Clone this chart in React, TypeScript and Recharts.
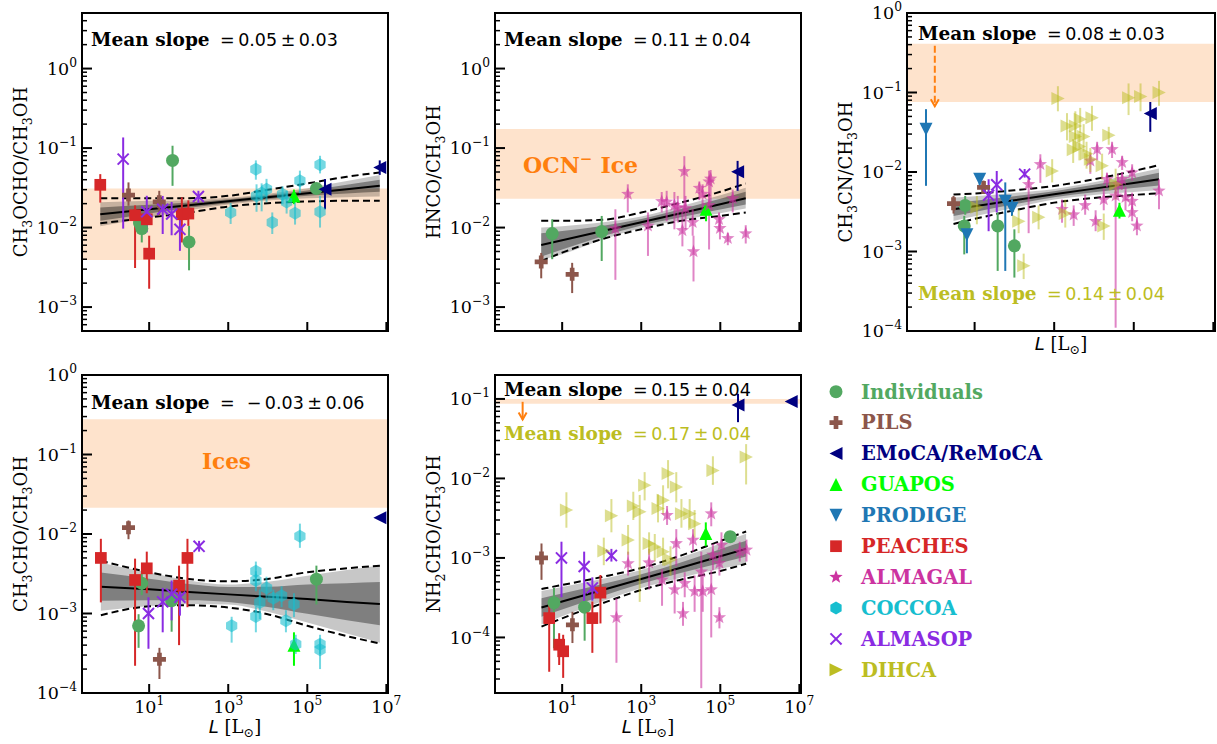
import React from "react";
import {
  Area,
  ComposedChart,
  ErrorBar,
  Line,
  ReferenceArea,
  ReferenceLine,
  Scatter,
  XAxis,
  YAxis
} from "recharts";

// [L, ratio, lower end of error bar, upper end of error bar]
type Pt = [number, number, number, number];
// [L, fit, dark lo, dark hi, light lo, light hi, dashed lo, dashed hi]
type BandRow = [number, number, number, number, number, number, number, number];

type SurveyKey =
  | "individuals" | "pils" | "emoca" | "guapos" | "prodige"
  | "peaches" | "almagal" | "coccoa" | "almasop" | "dihca";

type Shape = "circle" | "plus" | "triLeft" | "triUp" | "triDown" | "square" | "star" | "hexagon" | "x" | "triRight";

const SURVEYS: Record<SurveyKey, { name: string; color: string; shape: Shape; alpha: number }> = {
  individuals: { name: "Individuals", color: "#52a861", shape: "circle", alpha: 1 },
  pils: { name: "PILS", color: "#8c564b", shape: "plus", alpha: 1 },
  emoca: { name: "EMoCA/ReMoCA", color: "#000080", shape: "triLeft", alpha: 1 },
  guapos: { name: "GUAPOS", color: "#00ff00", shape: "triUp", alpha: 1 },
  prodige: { name: "PRODIGE", color: "#1f77b4", shape: "triDown", alpha: 1 },
  peaches: { name: "PEACHES", color: "#d62728", shape: "square", alpha: 1 },
  almagal: { name: "ALMAGAL", color: "#cc33a0", shape: "star", alpha: 0.6 },
  coccoa: { name: "COCCOA", color: "#17becf", shape: "hexagon", alpha: 0.6 },
  almasop: { name: "ALMASOP", color: "#8a2be2", shape: "x", alpha: 1 },
  dihca: { name: "DIHCA", color: "#bcbd22", shape: "triRight", alpha: 0.5 }
};

const LEGEND_ORDER: SurveyKey[] = [
  "individuals", "pils", "emoca", "guapos", "prodige",
  "peaches", "almagal", "coccoa", "almasop", "dihca"
];

const X_DOMAIN: [number, number] = [0.2, 1.1e7];
const X_TICK_EXPS = [1, 3, 5, 7];

// ---------- panel 1: CH3OCHO/CH3OH ----------
const p1Individuals: Pt[] = [
  [5.7, 0.0114, 0.0085, 0.0135], [6.5, 0.0097, 0.0065, 0.0125], [39, 0.07, 0.0335, 0.107],
  [102, 0.0066, 0.0029, 0.0105], [1.7e5, 0.031, 0.028, 0.034]
];
const p1Pils: Pt[] = [[3.0, 0.0256, 0.0188, 0.037], [18, 0.0211, 0.014, 0.029]];
const p1Emoca: Pt[] = [[2.8e5, 0.0304, 0.017, 0.0407], [6.8e6, 0.057, 0.046, 0.07]];
const p1Guapos: Pt[] = [[4.6e4, 0.025, 0.0197, 0.03]];
const p1Peaches: Pt[] = [
  [0.58, 0.0345, 0.0206, 0.047], [4.4, 0.0143, 0.0031, 0.019], [8.7, 0.0127, 0.0095, 0.016],
  [10, 0.0047, 0.0017, 0.0079], [67, 0.0147, 0.0065, 0.024], [98, 0.015, 0.0105, 0.022]
];
const p1Coccoa: Pt[] = [
  [1150, 0.0155, 0.0111, 0.0204], [5000, 0.054, 0.04, 0.07], [5200, 0.025, 0.0158, 0.035],
  [7000, 0.0272, 0.016, 0.036], [9300, 0.0304, 0.0208, 0.041], [13000, 0.0116, 0.0083, 0.0155],
  [23700, 0.0263, 0.0197, 0.033], [30000, 0.021, 0.015, 0.029], [49000, 0.0151, 0.0109, 0.0206],
  [65000, 0.0388, 0.027, 0.052], [2.1e5, 0.0616, 0.048, 0.08], [2.1e5, 0.0158, 0.01, 0.0251]
];
const p1Almasop: Pt[] = [
  [2.2, 0.0726, 0.0097, 0.136], [8.7, 0.0158, 0.0087, 0.0251], [22, 0.017, 0.0083, 0.025],
  [37, 0.0148, 0.008, 0.021], [60, 0.0095, 0.0051, 0.0148], [176, 0.0246, 0.0205, 0.029]
];
const p1Band: BandRow[] = [
  [0.58, 0.01472, 0.01214, 0.01787, 0.0104, 0.02085, 0.01135, 0.02344],
  [10, 0.01702, 0.015, 0.01931, 0.01337, 0.0217, 0.01337, 0.02344],
  [100, 0.01913, 0.0177, 0.02065, 0.01652, 0.02213, 0.01546, 0.02344],
  [1e3, 0.02149, 0.02027, 0.02276, 0.0195, 0.02366, 0.0184, 0.02507],
  [1e4, 0.02412, 0.02276, 0.02557, 0.02189, 0.02655, 0.02027, 0.02985],
  [1e5, 0.02709, 0.02507, 0.02924, 0.02344, 0.03133, 0.02129, 0.03589],
  [1e6, 0.03042, 0.02683, 0.03451, 0.02412, 0.0384, 0.0217, 0.04355],
  [6.8e6, 0.0335, 0.02818, 0.0399, 0.0246, 0.04571, 0.0217, 0.04934]
];

// ---------- panel 2: HNCO/CH3OH ----------
const p2Individuals: Pt[] = [[5.6, 0.0084, 0.004, 0.0127], [100, 0.0089, 0.0038, 0.014]];
const p2Pils: Pt[] = [[2.95, 0.0037, 0.0023, 0.0048], [17.9, 0.00258, 0.0015, 0.0036]];
const p2Emoca: Pt[] = [[2.74e5, 0.0504, 0.029, 0.069]];
const p2Guapos: Pt[] = [[43600, 0.017, 0.012, 0.019]];
const p2Almagal: Pt[] = [
  [222, 0.0097, 0.0022, 0.017], [457, 0.0263, 0.0155, 0.035], [1480, 0.0105, 0.0044, 0.0155],
  [3300, 0.0213, 0.0155, 0.028], [4400, 0.021, 0.012, 0.029], [6900, 0.0191, 0.0095, 0.028],
  [8400, 0.0179, 0.0116, 0.025], [11000, 0.0092, 0.0058, 0.0155], [12300, 0.0508, 0.016, 0.079],
  [13200, 0.0174, 0.0095, 0.025], [20000, 0.0116, 0.0079, 0.017], [21000, 0.005, 0.0021, 0.0079],
  [29500, 0.0313, 0.0221, 0.038], [35600, 0.0263, 0.0155, 0.035], [52000, 0.0377, 0.024, 0.052],
  [57000, 0.041, 0.021, 0.053], [52000, 0.019, 0.0053, 0.0276], [93000, 0.0127, 0.009, 0.0155],
  [98000, 0.0098, 0.0071, 0.014], [155000, 0.0073, 0.006, 0.0086], [206000, 0.0232, 0.0155, 0.03],
  [440000, 0.0084, 0.0063, 0.0107]
];
const p2Band: BandRow[] = [
  [2.95, 0.00605, 0.00431, 0.00849, 0.0039, 0.01, 0.0038, 0.01214],
  [10, 0.00692, 0.00528, 0.00908, 0.00461, 0.0104, 0.00484, 0.01214],
  [100, 0.00899, 0.00771, 0.0105, 0.007, 0.01156, 0.00713, 0.0125],
  [1e3, 0.01167, 0.0106, 0.01285, 0.0099, 0.01377, 0.00953, 0.01546],
  [1e4, 0.01517, 0.01349, 0.01702, 0.01237, 0.01858, 0.01214, 0.02065],
  [1e5, 0.01968, 0.01686, 0.02297, 0.01517, 0.02557, 0.01403, 0.02818],
  [4.4e5, 0.02344, 0.0195, 0.02818, 0.01735, 0.03163, 0.01546, 0.03589]
];

// ---------- panel 3: CH3CN/CH3OH ----------
const p3Individuals: Pt[] = [
  [5.8, 0.0038, 0.0029, 0.005], [5.5, 0.0021, 0.00092, 0.0028],
  [38, 0.0021, 0.00057, 0.0031], [100, 0.00118, 0.00047, 0.0019]
];
const p3Pils: Pt[] = [[2.95, 0.004, 0.003, 0.005], [16.8, 0.0064, 0.0053, 0.0078]];
const p3Emoca: Pt[] = [[2.6e5, 0.0544, 0.032, 0.076]];
const p3Guapos: Pt[] = [[43700, 0.0033, 0.0026, 0.0041]];
const p3Prodige: Pt[] = [
  [0.6, 0.0345, 0.0067, 0.0617], [13.4, 0.0081, 0.0065, 0.009], [6.4, 0.00163, 0.00095, 0.0021],
  [59, 0.0043, 0.00057, 0.0074], [87, 0.0035, 0.0028, 0.0045]
];
const p3Almagal: Pt[] = [
  [228, 0.007, 0.0017, 0.0089], [449, 0.0125, 0.0073, 0.0167], [1575, 0.0034, 0.0023, 0.0045],
  [3090, 0.0029, 0.0021, 0.0038], [6000, 0.0038, 0.0029, 0.0052], [8100, 0.0138, 0.0095, 0.0175],
  [12000, 0.0193, 0.014, 0.024], [28500, 0.0193, 0.015, 0.024], [11000, 0.0024, 0.0018, 0.0033],
  [17600, 0.0045, 0.0033, 0.0062], [21200, 0.0081, 0.0064, 0.0098], [51000, 0.0132, 0.0106, 0.016],
  [51000, 0.0081, 0.006, 0.01], [35000, 0.005, 0.00011, 0.0064], [62000, 0.0048, 0.0033, 0.0065],
  [91000, 0.0043, 0.0034, 0.0055], [1.2e5, 0.0021, 0.0016, 0.0027], [91000, 0.0098, 0.0078, 0.0125],
  [4.3e5, 0.0058, 0.0034, 0.0081], [91000, 0.0031, 0.0024, 0.004], [40000, 0.007, 0.005, 0.0095]
];
const p3Almasop: Pt[] = [
  [22.5, 0.0051, 0.0018, 0.0081], [36, 0.0069, 0.0031, 0.0103], [181, 0.0094, 0.0085, 0.0109]
];
const p3Dihca: Pt[] = [
  [1240, 0.084, 0.058, 0.12], [2100, 0.038, 0.025, 0.055], [3400, 0.038, 0.026, 0.058],
  [4500, 0.046, 0.031, 0.064], [8900, 0.048, 0.033, 0.068], [3400, 0.028, 0.019, 0.04],
  [5500, 0.028, 0.018, 0.04], [4300, 0.021, 0.014, 0.03], [23500, 0.029, 0.022, 0.037],
  [74000, 0.086, 0.052, 0.13], [1.48e5, 0.089, 0.058, 0.13], [4.3e5, 0.1, 0.068, 0.14],
  [890, 0.0103, 0.0074, 0.0145], [128, 0.0024, 0.0017, 0.0034], [406, 0.0027, 0.0019, 0.0038],
  [171, 0.00066, 0.00045, 0.00094], [8100, 0.0145, 0.01, 0.02], [17600, 0.0021, 0.0014, 0.003],
  [3000, 0.019, 0.013, 0.026], [6500, 0.017, 0.011, 0.024], [16000, 0.012, 0.008, 0.017],
  [1900, 0.003, 0.002, 0.0045], [35000, 0.007, 0.0045, 0.011], [11.4, 0.0036, 0.0022, 0.005]
];
const p3Band: BandRow[] = [
  [2.95, 0.0034, 0.0028, 0.00412, 0.00242, 0.00477, 0.00222, 0.0052],
  [10, 0.00371, 0.00315, 0.00436, 0.00277, 0.00496, 0.00257, 0.00535],
  [100, 0.00441, 0.00393, 0.00496, 0.00356, 0.00546, 0.0033, 0.00589],
  [1e3, 0.00525, 0.00481, 0.00573, 0.0045, 0.00612, 0.00412, 0.00668],
  [1e4, 0.00618, 0.00556, 0.00689, 0.00515, 0.00743, 0.00472, 0.00811],
  [1e5, 0.00729, 0.00631, 0.00843, 0.00561, 0.00946, 0.00515, 0.0103],
  [4.3e5, 0.00811, 0.00675, 0.00975, 0.00589, 0.0111, 0.00541, 0.0122]
];

// ---------- panel 4: CH3CHO/CH3OH ----------
const p4Individuals: Pt[] = [
  [6.5, 0.0024, 0.0017, 0.0032], [5.4, 0.0007, 0.00037, 0.00098],
  [37, 0.00145, 0.00059, 0.002], [1.7e5, 0.0027, 0.0013, 0.004]
];
const p4Pils: Pt[] = [[3.0, 0.012, 0.0086, 0.0148], [18.2, 0.000265, 0.00015, 0.00037]];
const p4Emoca: Pt[] = [[6.85e6, 0.016, 0.016, 0.016]];
const p4Guapos: Pt[] = [[46000, 0.0004, 0.00022, 0.00058]];
const p4Peaches: Pt[] = [
  [0.6, 0.005, 0.00138, 0.0087], [4.4, 0.00264, 0.00022, 0.0049], [8.7, 0.0037, 0.0018, 0.006],
  [57, 0.00224, 0.0004, 0.004], [93, 0.005, 0.0012, 0.0087]
];
const p4Coccoa: Pt[] = [
  [1220, 0.0007, 0.00043, 0.00091], [5000, 0.0034, 0.0022, 0.0045], [5000, 0.0026, 0.0019, 0.0034],
  [5000, 0.00092, 0.00058, 0.00123], [6300, 0.00138, 0.00085, 0.002], [9300, 0.0021, 0.0015, 0.0029],
  [13800, 0.00155, 0.0011, 0.002], [22400, 0.00167, 0.0012, 0.0022], [28800, 0.00081, 0.00058, 0.0011],
  [46000, 0.00131, 0.0009, 0.0018], [65000, 0.0094, 0.0067, 0.0135], [51000, 0.00041, 0.00031, 0.00054],
  [2.1e5, 0.00041, 0.00031, 0.00054], [2.1e5, 0.00035, 0.0002, 0.00048]
];
const p4Almasop: Pt[] = [
  [9.6, 0.001, 0.00036, 0.0016], [22, 0.0014, 0.00058, 0.0021], [37, 0.00175, 0.00082, 0.0026],
  [60, 0.0016, 0.00094, 0.0023], [183, 0.007, 0.006, 0.0082]
];
const p4Band: BandRow[] = [
  [0.6, 0.00217, 0.00145, 0.00327, 0.00108, 0.00436, 0.00095, 0.00462],
  [10, 0.00202, 0.00147, 0.00274, 0.00124, 0.00327, 0.00123, 0.0033],
  [100, 0.00186, 0.00147, 0.00235, 0.00132, 0.00261, 0.00127, 0.00272],
  [1e3, 0.00174, 0.0014, 0.00215, 0.0013, 0.00232, 0.00119, 0.00254],
  [1e4, 0.00162, 0.00121, 0.00217, 0.00105, 0.00251, 0.00098, 0.00272],
  [1e5, 0.00152, 0.00099, 0.00232, 0.00077, 0.00299, 0.0007, 0.0033],
  [1e6, 0.0014, 0.00082, 0.00241, 0.00056, 0.00352, 0.00052, 0.0037],
  [6.85e6, 0.00132, 0.00071, 0.00249, 0.00043, 0.00403, 0.00042, 0.004]
];

// ---------- panel 5: NH2CHO/CH3OH ----------
const p5Individuals: Pt[] = [[6.2, 0.000274, 0.000073, 0.00042], [37, 0.00024, 0.000091, 0.00035], [1.78e5, 0.00185, 0.0016, 0.0021]];
const p5Pils: Pt[] = [[3.0, 0.001, 0.00053, 0.00152], [18.2, 0.000144, 0.000085, 0.00021]];
const p5Emoca: Pt[] = [[2.8e5, 0.084, 0.051, 0.116], [6.2e6, 0.093, 0.093, 0.093]];
const p5Guapos: Pt[] = [[43000, 0.00203, 0.0014, 0.0028]];
const p5Peaches: Pt[] = [
  [4.7, 0.000175, 0.000037, 0.00026], [8.4, 0.000081, 0.000045, 0.000113], [10.6, 0.000067, 0.000031, 0.000108],
  [58, 0.000175, 0.000064, 0.000283], [93, 0.000366, 0.00015, 0.00061]
];
const p5Almagal: Pt[] = [
  [236, 0.000178, 0.000048, 0.00031], [465, 0.00085, 0.0006, 0.0012], [1580, 0.00087, 0.0004, 0.0013],
  [3360, 0.00053, 0.00025, 0.00072], [4500, 0.00344, 0.0026, 0.0045], [7000, 0.0004, 0.0002, 0.00072],
  [7700, 0.00152, 0.00079, 0.0023], [11400, 0.0002, 0.00014, 0.00028], [12600, 0.00048, 0.00032, 0.00066],
  [20400, 0.00168, 0.0012, 0.0023], [22400, 0.00038, 0.00021, 0.0006], [33000, 0.00067, 0.000023, 0.0012],
  [36000, 0.00038, 0.00021, 0.0006], [59000, 0.0036, 0.0025, 0.005], [59000, 0.0004, 0.0001, 0.0007],
  [65000, 0.00109, 0.0007, 0.0015], [95000, 0.000178, 0.00013, 0.00024], [1.07e5, 0.00145, 0.00096, 0.0021],
  [95000, 0.00086, 0.0006, 0.0012], [3.1e5, 0.0012, 0.0009, 0.0016], [4.6e5, 0.00126, 0.0009, 0.0017]
];
const p5Almasop: Pt[] = [
  [9.6, 0.001, 0.00032, 0.0016], [36, 0.00078, 0.00026, 0.0012], [58, 0.00042, 0.00029, 0.00057],
  [176, 0.00107, 0.0009, 0.0013]
];
const p5Dihca: Pt[] = [
  [12.8, 0.004, 0.0024, 0.0067], [113, 0.00122, 0.00081, 0.0018], [176, 0.0034, 0.0021, 0.0055],
  [465, 0.00168, 0.0011, 0.0026], [916, 0.0038, 0.00028, 0.0062], [1220, 0.0082, 0.0053, 0.012],
  [1580, 0.00152, 0.0011, 0.0021], [2200, 0.00138, 0.0009, 0.002], [2660, 0.0042, 0.0028, 0.0063],
  [3570, 0.0053, 0.0035, 0.0082], [4770, 0.0115, 0.0075, 0.017], [7700, 0.0078, 0.005, 0.012],
  [10400, 0.0036, 0.0024, 0.0055], [16800, 0.0036, 0.0024, 0.0055], [22400, 0.0027, 0.0018, 0.004],
  [65000, 0.0126, 0.0083, 0.019], [4.5e5, 0.0186, 0.0084, 0.027], [3570, 0.0012, 0.0008, 0.0018],
  [5500, 0.00095, 0.0006, 0.0014], [630, 0.0045, 0.003, 0.0068]
];
const p5Band: BandRow[] = [
  [3, 0.000238, 0.000182, 0.000311, 0.000147, 0.000385, 0.000137, 0.000407],
  [10, 0.000283, 0.000224, 0.000356, 0.000185, 0.000432, 0.000174, 0.000457],
  [100, 0.000392, 0.00033, 0.000466, 0.000283, 0.000543, 0.000267, 0.000575],
  [1e3, 0.000543, 0.000475, 0.000622, 0.000419, 0.000705, 0.000395, 0.000746],
  [1e4, 0.000753, 0.000646, 0.000879, 0.000565, 0.00101, 0.000533, 0.00107],
  [1e5, 0.00105, 0.000863, 0.00129, 0.000733, 0.00152, 0.000685, 0.00163],
  [4.5e5, 0.0013, 0.00104, 0.00164, 0.000845, 0.00201, 0.000845, 0.00215]
];

interface PanelDef {
  left: number;
  top: number;
  width: number;
  yDomain: [number, number];
  yMajorExps: number[];
  band: BandRow[];
  ice: [number, number];
  series: Array<[SurveyKey, Pt[]]>;
  xLabels: boolean;
  arrow?: { top: number; tip: number; dashed: boolean };
}

const PANELS: PanelDef[] = [
  {
    left: 82, top: 13, width: 306, yDomain: [5e-4, 5], yMajorExps: [-3, -2, -1, 0],
    band: p1Band, ice: [0.0039, 0.031], xLabels: false,
    series: [["individuals", p1Individuals], ["pils", p1Pils], ["emoca", p1Emoca], ["guapos", p1Guapos],
      ["peaches", p1Peaches], ["coccoa", p1Coccoa], ["almasop", p1Almasop]]
  },
  {
    left: 495, top: 13, width: 306, yDomain: [5e-4, 5], yMajorExps: [-3, -2, -1, 0],
    band: p2Band, ice: [0.023, 0.174], xLabels: false,
    series: [["individuals", p2Individuals], ["pils", p2Pils], ["emoca", p2Emoca], ["guapos", p2Guapos],
      ["almagal", p2Almagal]]
  },
  {
    left: 907, top: 13, width: 308, yDomain: [1e-4, 1], yMajorExps: [-4, -3, -2, -1, 0],
    band: p3Band, ice: [0.076, 0.41], xLabels: false, arrow: { top: 0.387, tip: 0.067, dashed: true },
    series: [["individuals", p3Individuals], ["pils", p3Pils], ["emoca", p3Emoca], ["guapos", p3Guapos],
      ["prodige", p3Prodige], ["almagal", p3Almagal], ["almasop", p3Almasop], ["dihca", p3Dihca]]
  },
  {
    left: 82, top: 375, width: 306, yDomain: [1e-4, 1], yMajorExps: [-4, -3, -2, -1, 0],
    band: p4Band, ice: [0.0214, 0.277], xLabels: true,
    series: [["individuals", p4Individuals], ["pils", p4Pils], ["emoca", p4Emoca], ["guapos", p4Guapos],
      ["peaches", p4Peaches], ["coccoa", p4Coccoa], ["almasop", p4Almasop]]
  },
  {
    left: 495, top: 375, width: 306, yDomain: [2e-5, 0.2], yMajorExps: [-4, -3, -2, -1],
    band: p5Band, ice: [0.087, 0.1], xLabels: true, arrow: { top: 0.092, tip: 0.055, dashed: false },
    series: [["individuals", p5Individuals], ["pils", p5Pils], ["emoca", p5Emoca], ["guapos", p5Guapos],
      ["peaches", p5Peaches], ["almagal", p5Almagal], ["almasop", p5Almasop], ["dihca", p5Dihca]]
  }
];

// slope annotations: [x, baseline, pieces of the math part, colour]
const SLOPES: Array<[number, number, string[], string]> = [
  [91, 46, ["=", "0.05", "\u00b1", "0.03"], "#000"],
  [504, 46, ["=", "0.11", "\u00b1", "0.04"], "#000"],
  [918, 40, ["=", "0.08", "\u00b1", "0.03"], "#000"],
  [918, 300, ["=", "0.14", "\u00b1", "0.04"], "#bcbd22"],
  [91, 409, ["=", "\u2212", "0.03", "\u00b1", "0.06"], "#000"],
  [504, 396, ["=", "0.15", "\u00b1", "0.04"], "#000"],
  [504, 440, ["=", "0.17", "\u00b1", "0.04"], "#bcbd22"]
];

const PLOT_H = 318;
const SERIF = "DejaVu Serif";
const SANS = "DejaVu Sans";
const ORANGE = "#ff7f0e";

function minorTicks([lo, hi]: [number, number]): number[] {
  const out: number[] = [];
  for (let e = Math.floor(Math.log10(lo)); e <= Math.ceil(Math.log10(hi)); e++) {
    for (let m = 2; m <= 9; m++) {
      const v = m * Math.pow(10, e);
      if (v >= lo * 0.999 && v <= hi * 1.001) out.push(v);
    }
  }
  return out;
}

function Marker({ kind, cx, cy, color, alpha, size = 13 }: {
  kind: Shape; cx: number; cy: number; color: string; alpha: number; size?: number;
}) {
  const r = size / 2;
  const fill = { fill: color, fillOpacity: alpha, stroke: "none" };
  const poly = (pts: Array<[number, number]>) => pts.map(p => `${cx + p[0]},${cy + p[1]}`).join(" ");
  switch (kind) {
    case "circle":
      return <circle cx={cx} cy={cy} r={r} {...fill} />;
    case "square":
      return <rect x={cx - r * 0.9} y={cy - r * 0.9} width={r * 1.8} height={r * 1.8} {...fill} />;
    case "plus": {
      const t = r * 0.36;
      return <polygon points={poly([[-t, -r], [t, -r], [t, -t], [r, -t], [r, t], [t, t], [t, r], [-t, r], [-t, t], [-r, t], [-r, -t], [-t, -t]])} {...fill} />;
    }
    case "triUp":
      return <polygon points={poly([[0, -r], [-r, r], [r, r]])} {...fill} />;
    case "triDown":
      return <polygon points={poly([[0, r], [-r, -r], [r, -r]])} {...fill} />;
    case "triLeft":
      return <polygon points={poly([[-r, 0], [r, -r], [r, r]])} {...fill} />;
    case "triRight":
      return <polygon points={poly([[r * 1.05, 0], [-r, -r], [-r, r]])} {...fill} />;
    case "star": {
      const pts: Array<[number, number]> = [];
      for (let i = 0; i < 10; i++) {
        const rad = i % 2 === 0 ? r * 1.08 : r * 0.45;
        const a = -Math.PI / 2 + (i * Math.PI) / 5;
        pts.push([rad * Math.cos(a), rad * Math.sin(a)]);
      }
      return <polygon points={poly(pts)} {...fill} />;
    }
    case "hexagon": {
      const pts: Array<[number, number]> = [];
      for (let i = 0; i < 6; i++) {
        const a = -Math.PI / 2 + (i * Math.PI) / 3;
        pts.push([r * Math.cos(a), r * Math.sin(a)]);
      }
      return <polygon points={poly(pts)} {...fill} />;
    }
    case "x": {
      const h = r * 0.85;
      return (
        <g stroke={color} strokeOpacity={alpha} strokeWidth={2}>
          <line x1={cx - h} y1={cy - h} x2={cx + h} y2={cy + h} />
          <line x1={cx - h} y1={cy + h} x2={cx + h} y2={cy - h} />
        </g>
      );
    }
  }
  return null;
}

function rgba(hex: string, a: number): string {
  const n = parseInt(hex.slice(1), 16);
  return `rgba(${(n >> 16) & 255},${(n >> 8) & 255},${n & 255},${a})`;
}

function Power({ exp, size }: { exp: number; size: number }) {
  const label = exp < 0 ? `\u2212${-exp}` : `${exp}`;
  return (
    <>
      <tspan>10</tspan>
      <tspan dy={-size * 0.47} fontSize={size * 0.7}>{label}</tspan>
    </>
  );
}

function Panel({ def }: { def: PanelDef }) {
  const rows = def.band.map(([x, fit, dLo, dHi, lLo, lHi, qLo, qHi]) => ({
    x, fit, dark: [dLo, dHi], light: [lLo, lHi], dashLo: qLo, dashHi: qHi
  }));
  const majors = def.yMajorExps.map(e => Math.pow(10, e));
  const yTicks = [...majors, ...minorTicks(def.yDomain)];

  const yTick = (p: any) => {
    const v: number = p.payload.value;
    const lg = Math.log10(v);
    const major = Math.abs(lg - Math.round(lg)) < 1e-6;
    return (
      <g>
        <line x1={p.x} x2={p.x + (major ? 10 : 5)} y1={p.y} y2={p.y} stroke="#000" strokeWidth={major ? 2 : 1.5} />
        {major && (
          <text x={p.x - 5} y={p.y + 6.4} textAnchor="end" fontFamily={SERIF} fontSize={17.5} fill="#000">
            <Power exp={Math.round(lg)} size={17.5} />
          </text>
        )}
      </g>
    );
  };
  const xTick = (p: any) => {
    const lg = Math.round(Math.log10(p.payload.value));
    return (
      <g>
        <line x1={p.x} x2={p.x} y1={p.y} y2={p.y - 9} stroke="#000" strokeWidth={2} />
        {def.xLabels && (
          <text x={p.x} y={p.y + 20} textAnchor="middle" fontFamily={SERIF} fontSize={17.5} fill="#000">
            <Power exp={lg} size={17.5} />
          </text>
        )}
      </g>
    );
  };

  return (
    <div style={{ position: "absolute", left: def.left - 82, top: def.top - 13 }}>
      <ComposedChart
        width={def.width + 112}
        height={PLOT_H + 53}
        data={rows}
        margin={{ top: 13, right: 30, bottom: 0, left: 2 }}
      >
        <XAxis
          dataKey="x" type="number" scale="log" domain={X_DOMAIN} allowDataOverflow
          ticks={X_TICK_EXPS.map(e => Math.pow(10, e))} interval={0}
          axisLine={false} tickLine={false} tickSize={0} tickMargin={0} height={40} tick={xTick}
        />
        <YAxis
          dataKey="y" type="number" scale="log" domain={def.yDomain} allowDataOverflow
          ticks={yTicks} interval={0}
          axisLine={false} tickLine={false} tickSize={0} tickMargin={0} width={80} tick={yTick}
        />
        <ReferenceArea y1={def.ice[0]} y2={def.ice[1]} fill="#fee3cc" fillOpacity={1} stroke="none" ifOverflow="hidden" />
        <Area dataKey="light" type="monotone" stroke="none" fill="#000" fillOpacity={0.22}
          dot={false} activeDot={false} isAnimationActive={false} />
        <Area dataKey="dark" type="monotone" stroke="none" fill="#000" fillOpacity={0.36}
          dot={false} activeDot={false} isAnimationActive={false} />
        <Line dataKey="dashLo" type="monotone" stroke="#000" strokeWidth={2} strokeDasharray="7 4"
          dot={false} activeDot={false} isAnimationActive={false} />
        <Line dataKey="dashHi" type="monotone" stroke="#000" strokeWidth={2} strokeDasharray="7 4"
          dot={false} activeDot={false} isAnimationActive={false} />
        <Line dataKey="fit" type="linear" stroke="#000" strokeWidth={2}
          dot={false} activeDot={false} isAnimationActive={false} />
        {def.arrow && (
          <ReferenceLine
            segment={[{ x: 1, y: def.arrow.top }, { x: 1, y: def.arrow.tip }]}
            stroke={ORANGE} strokeWidth={2} strokeDasharray={def.arrow.dashed ? "7 3" : undefined}
          />
        )}
        {def.arrow && (
          <Scatter
            data={[{ x: 1, y: def.arrow.tip }]} dataKey="y" isAnimationActive={false}
            shape={(p: any) => (
              <path d={`M${p.cx - 4},${p.cy - 7} L${p.cx},${p.cy} L${p.cx + 4},${p.cy - 7}`}
                fill="none" stroke={ORANGE} strokeWidth={2} />
            )}
          />
        )}
        {def.series.map(([key, pts]) => {
          const s = SURVEYS[key];
          const data = pts.map(([x, y, lo, hi]) => ({ x, y, err: [y - lo, hi - y] }));
          return (
            <Scatter
              key={key} name={s.name} data={data} dataKey="y" isAnimationActive={false}
              shape={(p: any) => <Marker kind={s.shape} cx={p.cx} cy={p.cy} color={s.color} alpha={s.alpha} />}
            >
              <ErrorBar dataKey="err" direction="y" width={0} stroke={rgba(s.color, s.alpha)} strokeWidth={2} />
            </Scatter>
          );
        })}
        <ReferenceArea
          x1={X_DOMAIN[0]} x2={X_DOMAIN[1]} y1={def.yDomain[0]} y2={def.yDomain[1]}
          fill="none" stroke="#000" strokeWidth={2} ifOverflow="visible"
        />
      </ComposedChart>
    </div>
  );
}

function YLabel({ x, y, parts }: { x: number; y: number; parts: Array<[string, boolean]> }) {
  let shifted = false;
  return (
    <text x={x} y={y} transform={`rotate(-90 ${x} ${y})`} textAnchor="middle" fontFamily={SERIF} fontSize={18} fill="#000">
      {parts.map(([t, sub], i) => {
        let dy = 0;
        if (sub && !shifted) { dy = 4.5; shifted = true; }
        else if (!sub && shifted) { dy = -4.5; shifted = false; }
        return <tspan key={i} dy={dy} fontSize={sub ? 12.6 : 18}>{t}</tspan>;
      })}
    </text>
  );
}

function XLabel({ x, y }: { x: number; y: number }) {
  return (
    <text x={x} y={y} textAnchor="middle" fontSize={18} fill="#000" fontFamily={SERIF}>
      <tspan fontFamily={SANS} fontStyle="italic">L</tspan>
      <tspan> [L</tspan>
      <tspan dy={4} fontSize={12.6}>{"\u2299"}</tspan>
      <tspan dy={-4}>]</tspan>
    </text>
  );
}

function Slope({ x, y, pieces, color }: { x: number; y: number; pieces: string[]; color: string }) {
  return (
    <g fill={color}>
      <text x={x} y={y} fontSize={18.5} fontFamily={SERIF} fontWeight="bold">Mean slope</text>
      <text x={x + 129} y={y} fontSize={17.5} fontFamily={SANS}>
        {pieces.map((t, i) => (
          <tspan key={i} dx={i === 0 ? 0 : (pieces[i - 1] === "=" && t === "\u2212" ? 12 : 3.5)}>{t}</tspan>
        ))}
      </text>
    </g>
  );
}

export default function App() {
  return (
    <div style={{ position: "relative", width: 1217, height: 744, background: "#fff", overflow: "hidden" }}>
      <style>{"body{margin:0}"}</style>
      {PANELS.map((def, i) => <Panel key={i} def={def} />)}
      <svg width={1217} height={744} style={{ position: "absolute", left: 0, top: 0, pointerEvents: "none" }}>
        <YLabel x={27} y={172} parts={[["CH", false], ["3", true], ["OCHO/CH", false], ["3", true], ["OH", false]]} />
        <YLabel x={440} y={172} parts={[["HNCO/CH", false], ["3", true], ["OH", false]]} />
        <YLabel x={852} y={172} parts={[["CH", false], ["3", true], ["CN/CH", false], ["3", true], ["OH", false]]} />
        <YLabel x={27} y={534} parts={[["CH", false], ["3", true], ["CHO/CH", false], ["3", true], ["OH", false]]} />
        <YLabel x={440} y={534} parts={[["NH", false], ["2", true], ["CHO/CH", false], ["3", true], ["OH", false]]} />

        <XLabel x={1061} y={350} />
        <XLabel x={235} y={733} />
        <XLabel x={648} y={733} />

        {SLOPES.map(([x, y, pieces, color], i) => (
          <Slope key={i} x={x} y={y} pieces={pieces} color={color} />
        ))}

        <text x={523} y={173} fontFamily={SERIF} fontWeight="bold" fontSize={22} fill={ORANGE}>
          OCN<tspan dy={-9} fontSize={15}>{"\u2212"}</tspan><tspan dy={9} dx={8}>Ice</tspan>
        </text>
        <text x={202} y={469} fontFamily={SERIF} fontWeight="bold" fontSize={21.5} fill={ORANGE}>Ices</text>

        {LEGEND_ORDER.map((key, i) => {
          const s = SURVEYS[key];
          const cy = 391.7 + i * 30.9;
          return (
            <g key={key}>
              <Marker kind={s.shape} cx={836} cy={cy} color={s.color} alpha={1} size={13} />
              <text x={861} y={cy + 6.8} fontFamily={SERIF} fontWeight="bold" fontSize={19.5} fill={s.color}>{s.name}</text>
            </g>
          );
        })}
      </svg>
    </div>
  );
}
